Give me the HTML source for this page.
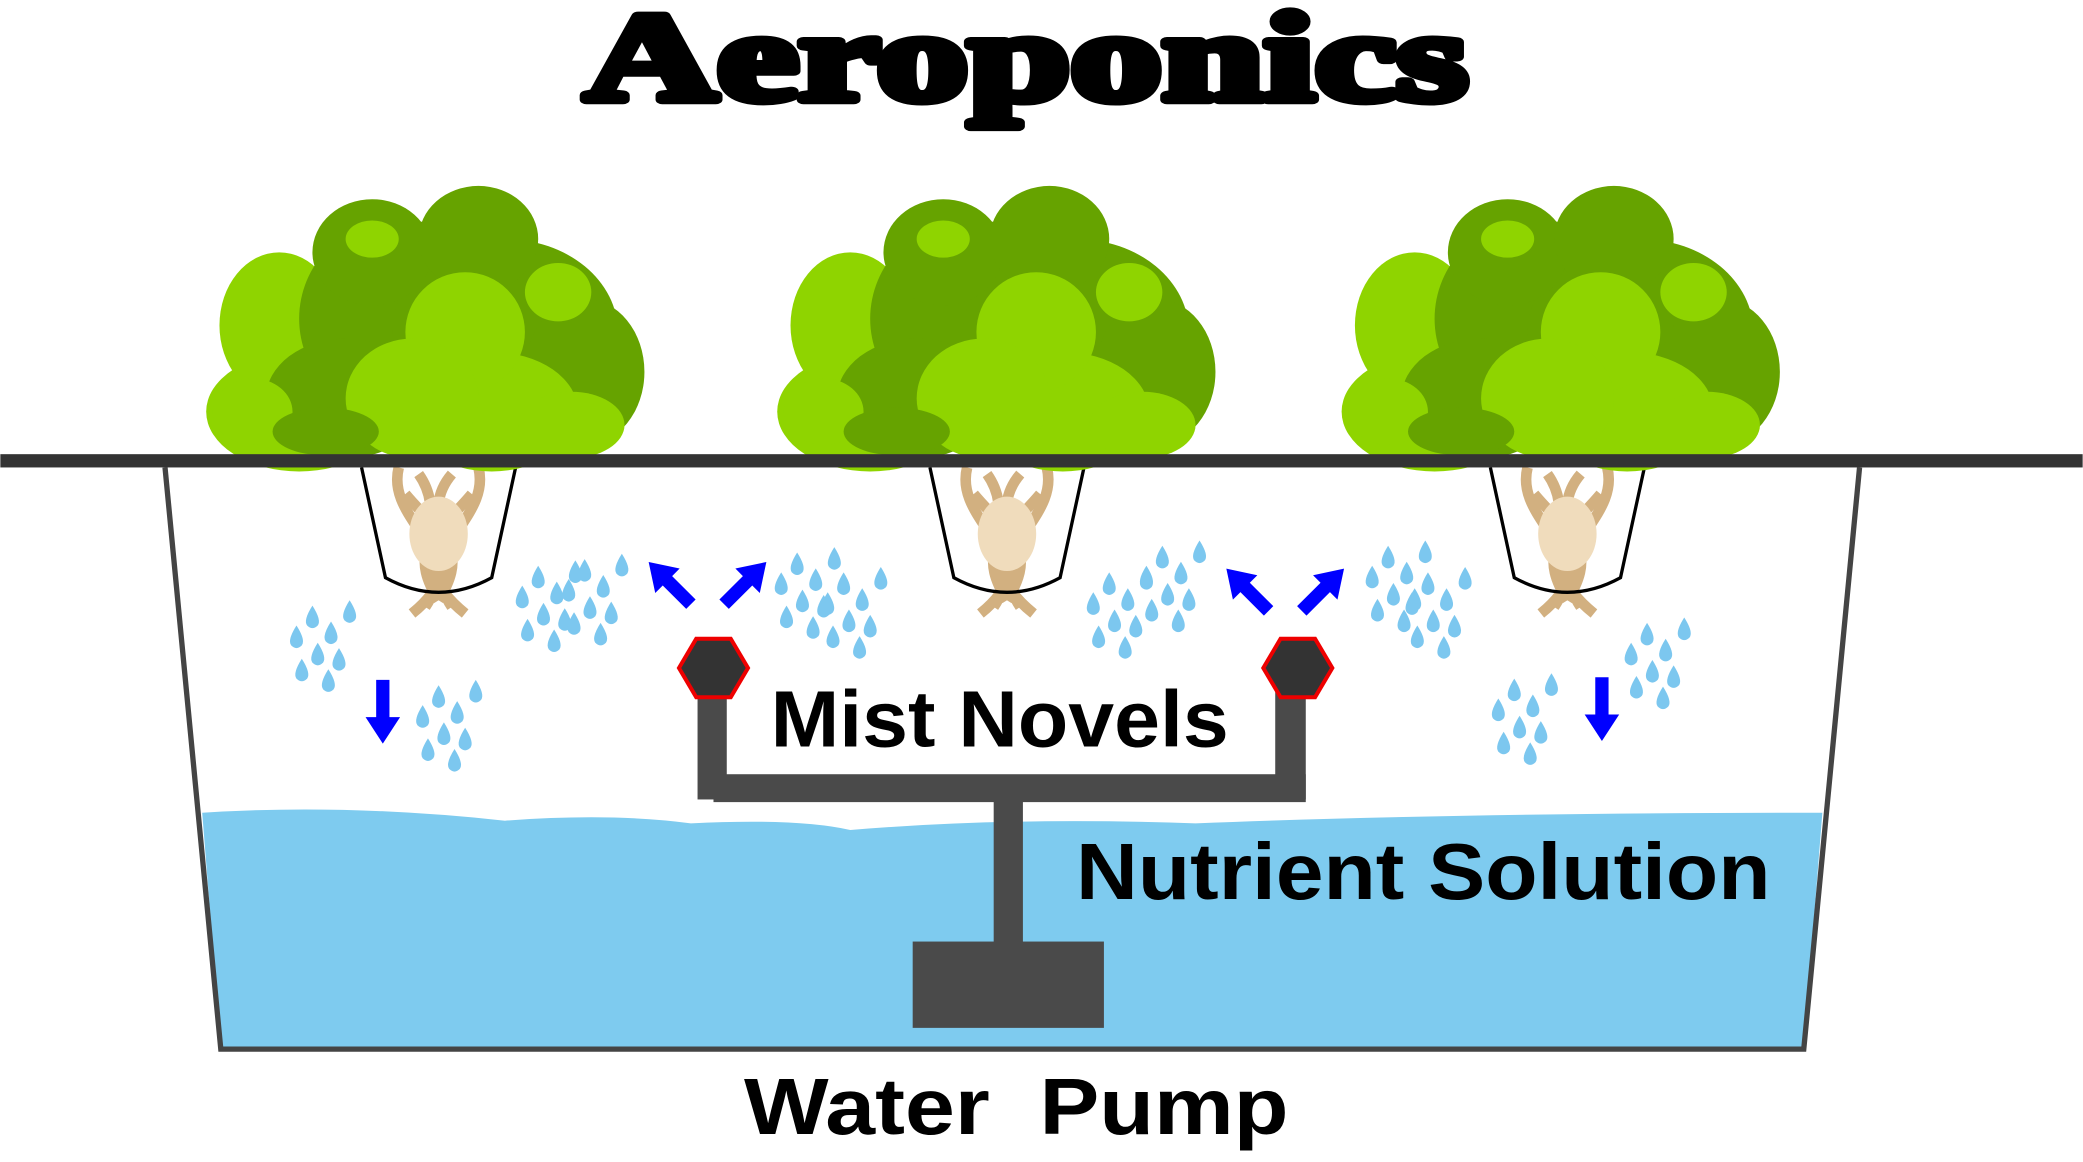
<!DOCTYPE html>
<html><head><meta charset="utf-8"><style>
html,body{margin:0;padding:0;background:#fff;}
svg{display:block;}
</style></head><body>
<svg width="2083" height="1162" viewBox="0 0 1568 875" xmlns="http://www.w3.org/2000/svg">
<defs>
<g id="plant">
  <ellipse cx="-95" cy="-30" rx="70" ry="45" fill="#8fd400"/>
  <ellipse cx="-110" cy="-95" rx="45" ry="55" fill="#8fd400"/>
  <ellipse cx="-20" cy="-100" rx="75" ry="75" fill="#66a300"/>
  <ellipse cx="60" cy="-90" rx="85" ry="70" fill="#66a300"/>
  <ellipse cx="120" cy="-60" rx="45" ry="55" fill="#66a300"/>
  <ellipse cx="-40" cy="-150" rx="45" ry="40" fill="#66a300"/>
  <ellipse cx="40" cy="-160" rx="45" ry="40" fill="#66a300"/>
  <ellipse cx="-40" cy="-160" rx="20" ry="14" fill="#8fd400"/>
  <ellipse cx="100" cy="-120" rx="25" ry="22" fill="#8fd400"/>
  <ellipse cx="-60" cy="-40" rx="60" ry="45" fill="#66a300"/>
  <ellipse cx="50" cy="-30" rx="65" ry="45" fill="#8fd400"/>
  <ellipse cx="30" cy="-90" rx="45" ry="45" fill="#8fd400"/>
  <ellipse cx="-10" cy="-40" rx="50" ry="45" fill="#8fd400"/>
  <ellipse cx="110" cy="-20" rx="40" ry="25" fill="#8fd400"/>
  <ellipse cx="-130" cy="-30" rx="30" ry="25" fill="#8fd400"/>
  <ellipse cx="-75" cy="-15" rx="40" ry="18" fill="#66a300"/>
</g>
<g id="pot">
  <g fill="none" stroke="#d2b080" stroke-width="8">
    <path d="M-30 0 C-40 40 20 60 -10 105"/>
    <path d="M30 0 C40 40 -20 60 10 105"/>
    <path d="M-15 5 C10 40 -30 70 20 110"/>
    <path d="M10 5 C-20 40 30 70 -20 110"/>
    <path d="M-25 20 C0 50 25 60 0 100"/>
    <path d="M25 20 C0 50 -25 60 0 100"/>
  </g>
  <ellipse cx="0" cy="50" rx="22" ry="28" fill="#f0dcbc"/>
  <path d="M-58 0 L-40 83 Q0 105 40 83 L58 0" fill="none" stroke="#000" stroke-width="2.5"/>
</g>
<path id="drop" d="M0 -9 Q7 2 4 6 Q0 10 -4 6 Q-7 2 0 -9Z" fill="#7cc7ef"/>
<g id="cluster">
  <use href="#drop" x="0" y="0"/><use href="#drop" x="14" y="12"/><use href="#drop" x="-12" y="15"/>
  <use href="#drop" x="4" y="28"/><use href="#drop" x="20" y="32"/><use href="#drop" x="-8" y="40"/>
  <use href="#drop" x="28" y="-4"/><use href="#drop" x="12" y="48"/>
</g>
<path id="arrowd" d="M-5 0 H5 V28 H13 L0 48 L-13 28 H-5Z" fill="#0000ff"/>
<path id="arrowu" d="M-5 0 H5 V-25 H13 L0 -45 L-13 -25 H-5Z" fill="#0000ff"/>
</defs>

<text x="440" y="75" textLength="665" lengthAdjust="spacingAndGlyphs" font-family="Liberation Serif, serif" font-weight="bold" font-size="95" stroke="#000" stroke-width="7" stroke-linejoin="round">Aeroponics</text>

<path d="M152 612 Q260 605 380 618 Q460 612 520 620 Q600 616 640 625 Q760 615 900 620 Q1100 612 1372 612 L1358 788 L166 788Z" fill="#7ecbef"/>
<path d="M124 352 L166 790 L1358 790 L1400 352" fill="none" stroke="#444" stroke-width="4"/>

<use href="#pot" x="330" y="352"/>
<use href="#pot" x="758" y="352"/>
<use href="#pot" x="1180" y="352"/>

<use href="#plant" x="320" y="340"/>
<use href="#plant" x="750" y="340"/>
<use href="#plant" x="1175" y="340"/>

<rect x="0" y="342" width="1568" height="10" fill="#333"/>

<g fill="#4a4a4a">
<rect x="525" y="520" width="22" height="82"/>
<rect x="960" y="520" width="23" height="82"/>
<rect x="537" y="583" width="446" height="21"/>
<rect x="748" y="600" width="22" height="112"/>
<rect x="687" y="709" width="144" height="65"/>
</g>
<polygon points="511,503 524,481 550,481 563,503 550,525 524,525" fill="#333" stroke="#e00" stroke-width="3"/>
<polygon points="951,503 964,481 990,481 1003,503 990,525 964,525" fill="#333" stroke="#e00" stroke-width="3"/>

<use href="#arrowd" x="288" y="512"/>
<use href="#arrowd" x="1206" y="510"/>
<use href="#arrowu" x="520" y="455" transform="rotate(-45 520 455)"/>
<use href="#arrowu" x="545" y="455" transform="rotate(45 545 455)"/>
<use href="#arrowu" x="955" y="460" transform="rotate(-45 955 460)"/>
<use href="#arrowu" x="980" y="460" transform="rotate(45 980 460)"/>

<use href="#cluster" x="235" y="465"/>
<use href="#cluster" x="330" y="525"/>
<use href="#cluster" x="405" y="435"/>
<use href="#cluster" x="440" y="430"/>
<use href="#cluster" x="600" y="425"/>
<use href="#cluster" x="635" y="440"/>
<use href="#cluster" x="835" y="440"/>
<use href="#cluster" x="875" y="420"/>
<use href="#cluster" x="1045" y="420"/>
<use href="#cluster" x="1075" y="440"/>
<use href="#cluster" x="1140" y="520"/>
<use href="#cluster" x="1240" y="478"/>

<g font-family="Liberation Sans, sans-serif" font-weight="bold" font-size="60" fill="#000">
<text x="580" y="562" textLength="345" lengthAdjust="spacingAndGlyphs">Mist Novels</text>
<text x="810" y="677" textLength="523" lengthAdjust="spacingAndGlyphs">Nutrient Solution</text>
<text x="560" y="854" textLength="410" lengthAdjust="spacingAndGlyphs" xml:space="preserve">Water  Pump</text>
</g>
</svg>
</body></html>
